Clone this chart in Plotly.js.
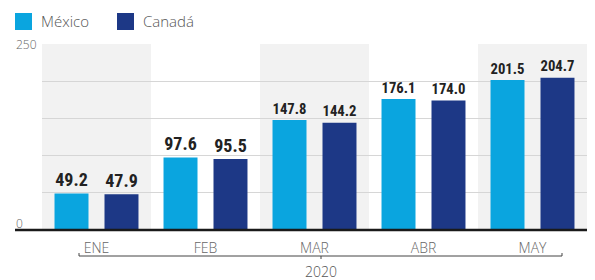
<!DOCTYPE html>
<html><head><meta charset="utf-8">
<script src="https://cdn.plot.ly/plotly-3.0.1.min.js"></script>
<style>html,body{margin:0;padding:0;background:#fff}#chart{width:595px;height:280px}</style>
</head><body><div id="chart"></div>
<script>
const months = ["ENE","FEB","MAR","ABR","MAY"];
const mexico = [49.2, 97.6, 147.8, 176.1, 201.5];
const canada = [47.9, 95.5, 144.2, 174.0, 204.7];
const seriesNames = ["México","Canadá"];
const seriesColors = ["#0aa5df","#1d3886"];
const yearLabel = "2020";
const yTickLabels = ["0","250"];

const W = 545, H = 186, L = 42, T = 44;
const px = x => (x - L) / W;
const py = y => (T + H - y) / H;

const shapes = [];
[0,2,4].forEach(i => shapes.push({type:'rect', xref:'x', yref:'paper', x0:i-0.5, x1:i+0.5, y0:0, y1:1, fillcolor:'#f2f2f2', line:{width:0}, layer:'below'}));
shapes.push({type:'line', xref:'paper', yref:'paper', x0:px(15), x1:1, y0:0, y1:0, line:{color:'#1a1a1a', width:2.5}});
// bracket
shapes.push({type:'line', xref:'paper', yref:'paper', x0:px(79), x1:px(562), y0:py(256), y1:py(256), line:{color:'#444', width:1}});
shapes.push({type:'line', xref:'paper', yref:'paper', x0:px(79), x1:px(79), y0:py(256), y1:py(253), line:{color:'#444', width:1}});
shapes.push({type:'line', xref:'paper', yref:'paper', x0:px(562), x1:px(562), y0:py(256), y1:py(253), line:{color:'#444', width:1}});
shapes.push({type:'line', xref:'paper', yref:'paper', x0:px(321), x1:px(321), y0:py(256), y1:py(259), line:{color:'#444', width:1}});
// legend squares
const legX = [15, 117];
legX.forEach((x, i) => shapes.push({type:'rect', xref:'paper', yref:'paper', x0:px(x), x1:px(x+17), y0:py(30), y1:py(13), fillcolor:seriesColors[i], line:{width:0}}));

const lightFam = 'Open Sans, Noto Sans, sans-serif';
const lblFont = {family:lightFam, size:12, color:'#666', weight:300};
const annotations = [
  {xref:'paper', yref:'y', x:px(14), y:250, text:yTickLabels[1], showarrow:false, xanchor:'left', yanchor:'middle', font:lblFont},
  {xref:'paper', yref:'paper', x:px(14), y:py(223), text:yTickLabels[0], showarrow:false, xanchor:'left', yanchor:'middle', font:lblFont},
  {xref:'paper', yref:'paper', x:px(321), y:py(271), text:yearLabel, showarrow:false, xanchor:'center', yanchor:'middle', font:{family:lightFam, size:14, color:'#555', weight:300}}
];
legX.forEach((x, i) => annotations.push({xref:'paper', yref:'paper', x:px(x+24), y:py(21), text:seriesNames[i], showarrow:false, xanchor:'left', yanchor:'middle', font:{family:lightFam, size:15, color:'#555', weight:300}}));

const txtFont = {family:'Liberation Sans Narrow, Roboto Condensed, Roboto, sans-serif', size:18, color:'#222', weight:700};
const data = [
  {type:'bar', name:seriesNames[0], x:months, y:mexico, marker:{color:seriesColors[0]}, text:mexico.map(v=>v.toFixed(1)), textposition:'outside', textfont:txtFont, cliponaxis:false, hoverinfo:'skip'},
  {type:'bar', name:seriesNames[1], x:months, y:canada, marker:{color:seriesColors[1]}, text:canada.map(v=>v.toFixed(1)), textposition:'outside', textfont:txtFont, cliponaxis:false, hoverinfo:'skip'}
];

const layout = {
  width:595, height:280,
  margin:{l:L, r:595-L-W, t:T, b:280-T-H, pad:0},
  paper_bgcolor:'#fff', plot_bgcolor:'rgba(0,0,0,0)',
  barmode:'group', bargap:0.083, bargroupgap:0.32,
  showlegend:false,
  xaxis:{type:'category', range:[-0.5,4.5], showgrid:false, zeroline:false, showline:false, ticks:'outside', ticklen:5, tickcolor:'rgba(0,0,0,0)', tickfont:{family:lightFam, size:14, color:'#666', weight:300}, fixedrange:true},
  yaxis:{range:[0,250], dtick:50, showgrid:true, gridcolor:'#d6d6d6', gridwidth:1, zeroline:false, showticklabels:false, showline:false, fixedrange:true},
  shapes:shapes, annotations:annotations,
  font:{family:lightFam}
};
Plotly.newPlot('chart', data, layout, {displayModeBar:false, staticPlot:true});
</script></body></html>
